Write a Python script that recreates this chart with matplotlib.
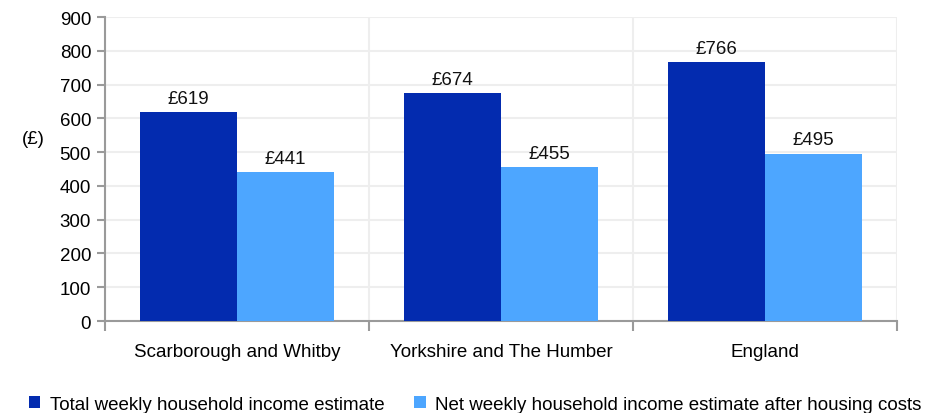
import matplotlib
matplotlib.use("Agg")
from matplotlib import pyplot as plt
import numpy as np

areas = ['Scarborough and Whitby', 'Yorkshire and The Humber', 'England']
total_income = [619, 674, 766]
net_income = [441, 455, 495]
series_names = ['Total weekly household income estimate',
                'Net weekly household income estimate after housing costs']
yticks = [0, 100, 200, 300, 400, 500, 600, 700, 800, 900]

plt.rcParams['font.family'] = ['Liberation Sans', 'DejaVu Sans']

dark = '#032BAF'
light = '#4DA6FF'
axis_grey = '#9a9a9a'
fs = 13.5

fig = plt.figure(figsize=(9.41, 4.14), dpi=100)
ax = fig.add_axes([0.1116, 0.2222, 0.8416, 0.7343])

x = np.arange(len(areas))
w = 0.367
b1 = ax.bar(x - w / 2, total_income, w, color=dark, label=series_names[0], zorder=3)
b2 = ax.bar(x + w / 2, net_income, w, color=light, label=series_names[1], zorder=3)

for bars in (b1, b2):
    for rect in bars:
        v = rect.get_height()
        ax.text(rect.get_x() + rect.get_width() / 2, v + 16, f'£{v:.0f}',
                ha='center', va='bottom', fontsize=fs, color='#111111')

ax.set_xlim(-0.5, len(areas) - 0.5)
ax.set_ylim(0, 900)
ax.set_yticks(yticks)
ax.tick_params(axis='y', labelsize=fs, length=6, color=axis_grey, width=1.5, pad=4)

# category boundaries as x ticks / vertical gridlines
bounds = np.arange(len(areas) + 1) - 0.5
ax.set_xticks(bounds)
ax.set_xticklabels([])
ax.tick_params(axis='x', length=7, color=axis_grey, width=1.5)
ax.set_xticks(x, minor=True)
ax.set_xticklabels(areas, minor=True)
ax.tick_params(axis='x', which='minor', length=0, labelsize=fs, pad=16)

ax.grid(True, which='major', color='#eeeeee', linewidth=1.5, zorder=0)

for s in ['top', 'right']:
    ax.spines[s].set_visible(False)
for s in ['left', 'bottom']:
    ax.spines[s].set_color(axis_grey)
    ax.spines[s].set_linewidth(1.5)

ax.text(-0.09, 0.6, '(£)', transform=ax.transAxes, fontsize=fs, ha='center', va='center')

fig.legend(handles=[b1, b2], loc='lower center', bbox_to_anchor=(0.505, -0.04), ncol=2,
           frameon=False, fontsize=fs, handlelength=0.6, handleheight=0.6,
           handletextpad=0.5, columnspacing=1.6)

fig.savefig('out.png', dpi=100)
